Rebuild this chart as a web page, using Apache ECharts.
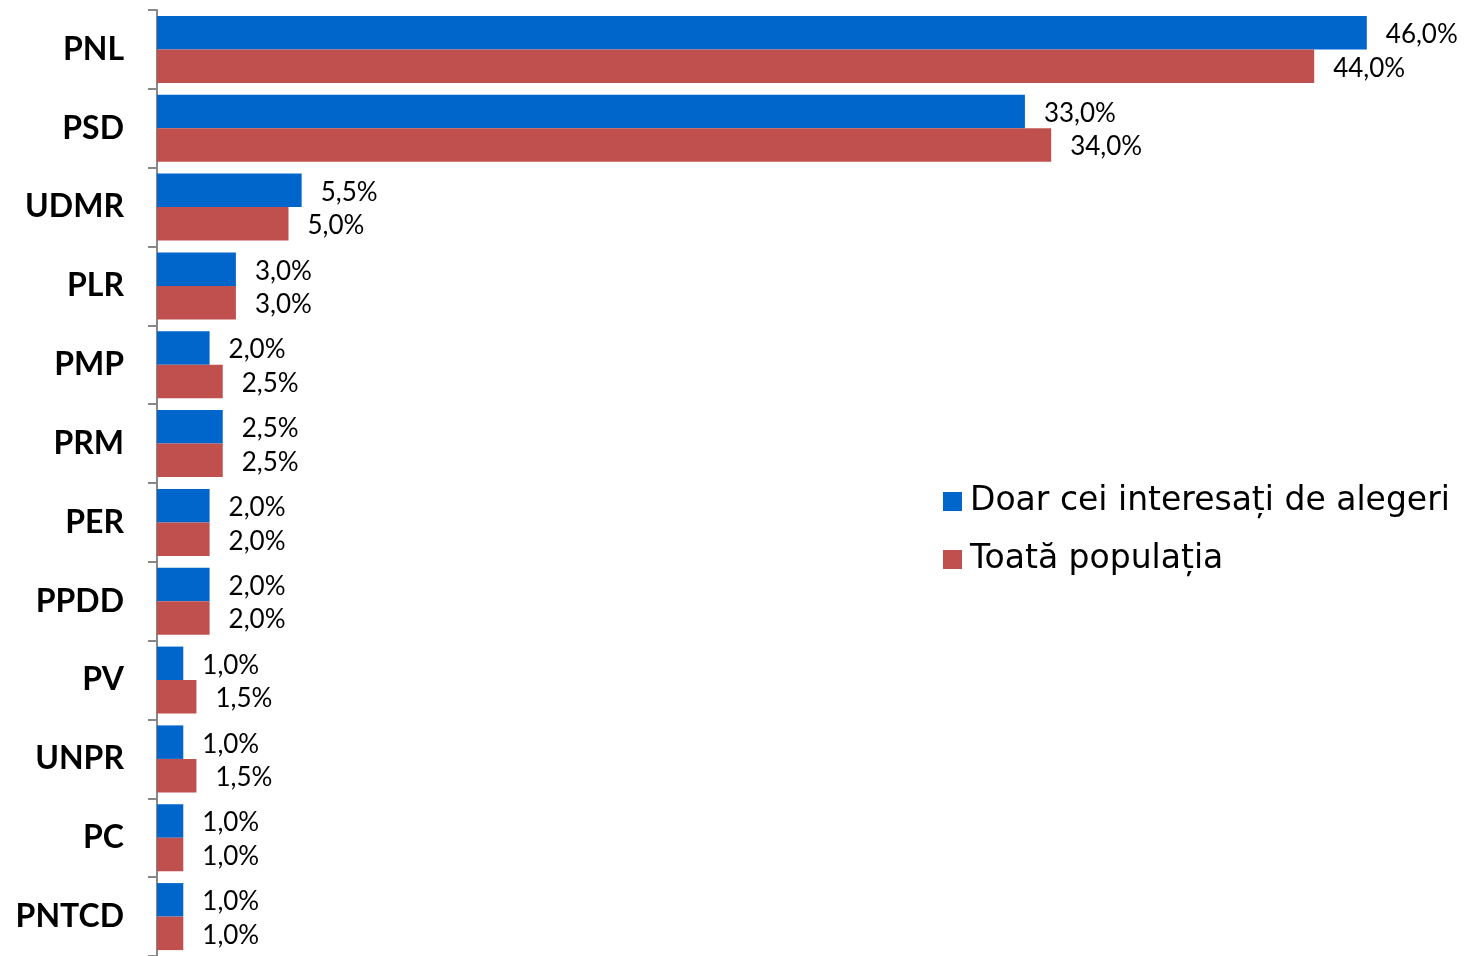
<!DOCTYPE html>
<html><head><meta charset="utf-8">
<script src="https://cdn.jsdelivr.net/npm/echarts@6/dist/echarts.min.js"></script>
<style>html,body{margin:0;padding:0;background:#fff}#c{width:1472px;height:956px}</style>
</head><body><div id="c"></div>
<script>
var categories = ['PNL','PSD','UDMR','PLR','PMP','PRM','PER','PPDD','PV','UNPR','PC','PNTCD'];
var seriesNames = ['Doar cei interesați de alegeri','Toată populația'];
var interesati = [46, 33, 5.5, 3, 2, 2.5, 2, 2, 1, 1, 1, 1];
var populatie = [44, 34, 5, 3, 2.5, 2.5, 2, 2, 1.5, 1.5, 1, 1];

var chart = echarts.init(document.getElementById('c'));
function fmt(p){ return p.value.toFixed(1).replace('.', ',') + '%'; }
var lbl = {show:true, position:'right', distance:19, offset:[0,2], formatter:fmt, color:'#000', fontFamily:'Lato', fontSize:26};
chart.setOption({
  animation:false,
  grid:{left:157, top:10, width:1317, height:950},
  legend:{orient:'vertical', left:938, top:480, itemWidth:19, itemHeight:19, itemGap:25,
    icon:'rect', textStyle:{fontFamily:'DejaVu Sans', fontSize:33, color:'#000', padding:[0,0,0,3]}},
  xAxis:{type:'value', min:0, max:50, show:false},
  yAxis:{type:'category', data:categories, inverse:true,
    axisLine:{lineStyle:{color:'#888', width:2}},
    axisTick:{show:true, length:9, lineStyle:{color:'#888', width:2}},
    axisLabel:{margin:33, color:'#000', fontFamily:'Lato', fontWeight:'bold', fontSize:32}},
  series:[
    {name:seriesNames[0], type:'bar', data:interesati, itemStyle:{color:'#0066CC'}, barGap:'0%', barCategoryGap:'15%', label:lbl},
    {name:seriesNames[1], type:'bar', data:populatie, itemStyle:{color:'#C0504D'}, barGap:'0%', barCategoryGap:'15%', label:lbl}
  ]
});
</script></body></html>
